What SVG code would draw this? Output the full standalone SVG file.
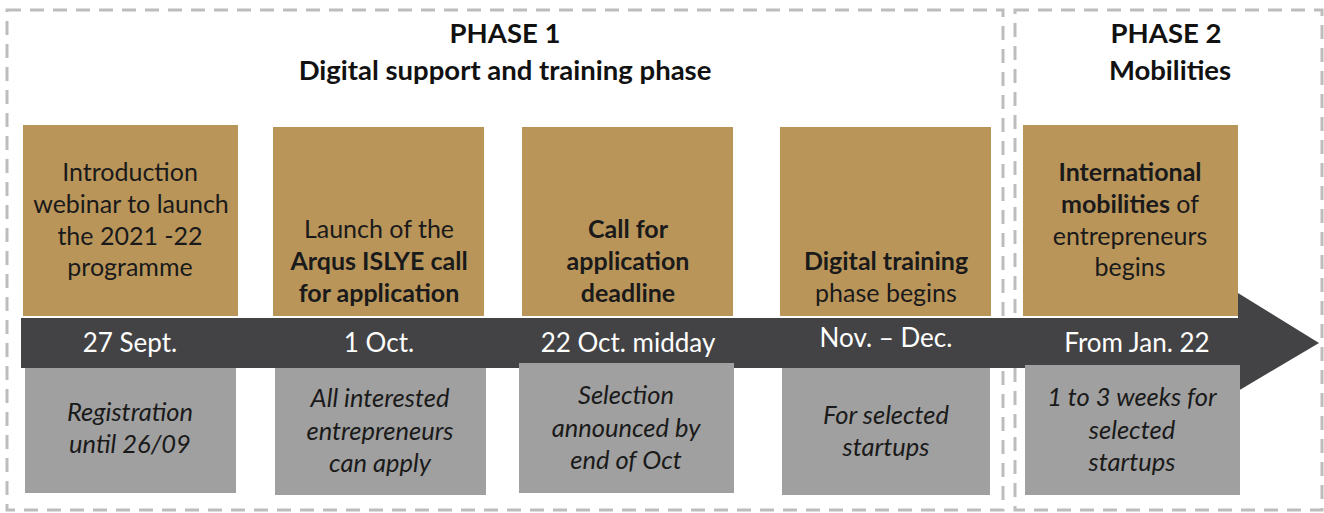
<svg xmlns="http://www.w3.org/2000/svg" width="1324" height="513" viewBox="0 0 1324 513">
<style>
.frame{fill:none;stroke:#bdbdbd;stroke-width:3;stroke-dasharray:14 9}
.gold{fill:#b9955a}
.grey{fill:#a0a0a0}
.bar{fill:#434345}
text{font-family:Lato,"Open Sans","Liberation Sans",sans-serif;font-size:25px;text-anchor:middle;fill:#1a1a1a}
.h{font-weight:bold;font-size:27.5px;fill:#111}
.b{font-weight:bold}
.w{fill:#ffffff;font-size:26px}
.i{font-style:italic;font-size:25.5px}
</style>
<rect width="1324" height="513" fill="#ffffff"/>
<g id="phase1-frame">
<rect class="frame" x="7" y="10" width="996" height="500"/>
<text class="h" x="505" y="43">PHASE 1</text>
<text class="h" x="505" y="80">Digital support and training phase</text>
</g>
<g id="phase2-frame">
<rect class="frame" x="1015" y="10" width="307" height="500"/>
<text class="h" x="1166" y="43">PHASE 2</text>
<text class="h" x="1170" y="80">Mobilities</text>
</g>
<g id="connectors">
<path class="bar" d="M21 318 H1238 V293 L1319 343 L1238 391 V368 H21 Z"/>
</g>
<g id="node1">
<rect class="gold" x="23" y="125" width="215" height="191"/>
<text x="130" y="181">Introduction</text>
<text x="131" y="213">webinar to launch</text>
<text x="130" y="245">the 2021 -22</text>
<text x="130" y="276">programme</text>
<text class="w" x="130" y="352">27 Sept.</text>
<rect class="grey" x="25" y="368" width="211" height="125"/>
<text class="i" x="130" y="421">Registration</text>
<text class="i" x="130" y="453">until 26/09</text>
</g>
<g id="node2">
<rect class="gold" x="273" y="127" width="211" height="189"/>
<text x="379" y="238">Launch of the</text>
<text class="b" x="379" y="270">Arqus ISLYE call</text>
<text class="b" x="379" y="302">for application</text>
<text class="w" x="379" y="352">1 Oct.</text>
<rect class="grey" x="275" y="368" width="211" height="127"/>
<text class="i" x="380" y="407">All interested</text>
<text class="i" x="380" y="440">entrepreneurs</text>
<text class="i" x="380" y="472">can apply</text>
</g>
<g id="node3">
<rect class="gold" x="522" y="127" width="211" height="189"/>
<text class="b" x="628" y="238">Call for</text>
<text class="b" x="628" y="270">application</text>
<text class="b" x="628" y="302">deadline</text>
<text class="w" x="628" y="352">22 Oct. midday</text>
<rect class="grey" x="519" y="363" width="215" height="130"/>
<text class="i" x="626" y="404">Selection</text>
<text class="i" x="626" y="437">announced by</text>
<text class="i" x="626" y="469">end of Oct</text>
</g>
<g id="node4">
<rect class="gold" x="780" y="127" width="211" height="189"/>
<text class="b" x="886" y="270">Digital training</text>
<text x="886" y="302">phase begins</text>
<text class="w" x="886" y="347">Nov. – Dec.</text>
<rect class="grey" x="782" y="368" width="208" height="127"/>
<text class="i" x="886" y="424">For selected</text>
<text class="i" x="886" y="456">startups</text>
</g>
<g id="node5">
<rect class="gold" x="1023" y="125" width="215" height="191"/>
<text class="b" x="1130" y="181">International</text>
<text x="1130" y="213"><tspan class="b">mobilities</tspan> of</text>
<text x="1130" y="245">entrepreneurs</text>
<text x="1130" y="276">begins</text>
<text class="w" x="1137" y="352">From Jan. 22</text>
<rect class="grey" x="1025" y="365" width="215" height="130"/>
<text class="i" x="1132" y="406">1 to 3 weeks for</text>
<text class="i" x="1132" y="439">selected</text>
<text class="i" x="1132" y="471">startups</text>
</g>
</svg>
